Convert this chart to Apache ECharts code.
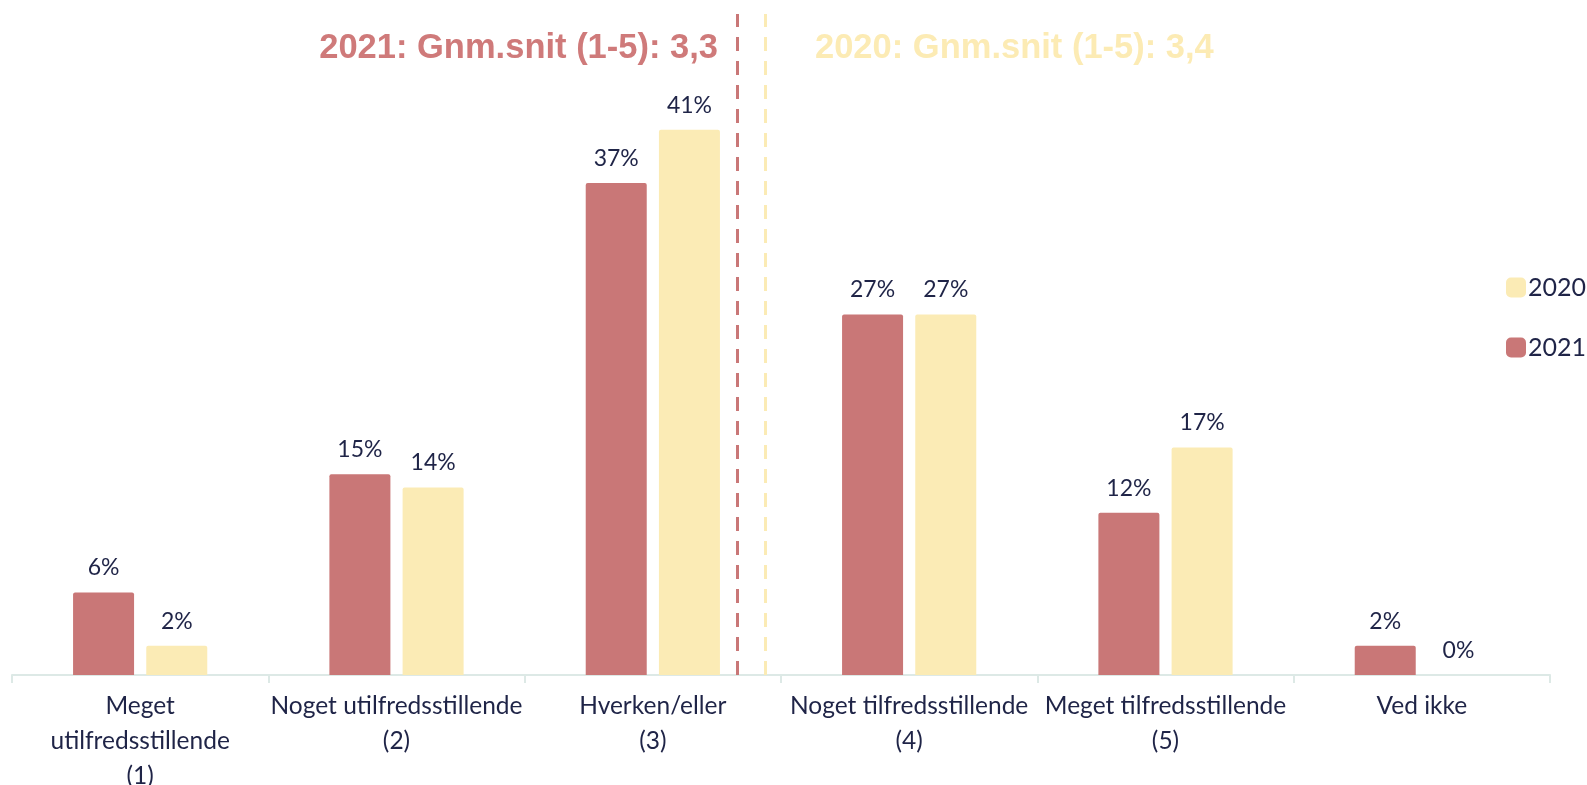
<!DOCTYPE html>
<html>
<head>
<meta charset="utf-8">
<script src="https://cdn.jsdelivr.net/npm/echarts@6/dist/echarts.min.js"></script>
<style>html,body{margin:0;padding:0;background:#fff}#c{width:1587px;height:785px}</style>
</head>
<body>
<div id="c"></div>
<script>
var categories = ["Meget\nutilfredsstillende\n(1)", "Noget utilfredsstillende\n(2)", "Hverken/eller\n(3)", "Noget tilfredsstillende\n(4)", "Meget tilfredsstillende\n(5)", "Ved ikke"];
var values2021 = [6.2, 15.1, 37.0, 27.1, 12.2, 2.2];
var values2020 = [2.2, 14.1, 41.0, 27.1, 17.1, 0];
var seriesNames = ["2021", "2020"];
var meanPositions = [3.33, 3.44];
var meanTitles = ["2021: Gnm.snit (1-5): 3,3", "2020: Gnm.snit (1-5): 3,4"];

var RED = '#C97777', YEL = '#FBEBB5', TXT = '#1F2447';
var chart = echarts.init(document.getElementById('c'), null, {renderer: 'canvas'});
var labelCfg = {
  show: true, position: 'top', distance: 13,
  fontFamily: 'Lato', fontSize: 23, color: TXT,
  formatter: function (p) { return Math.round(p.value) + '%'; }
};
chart.setOption({
  animation: false,
  grid: {left: 12, right: 37, top: 10, bottom: 110, containLabel: false, outerBoundsMode: 'none'},
  legend: {
    data: ['2020', '2021'], orient: 'vertical', left: 1501, top: 270,
    itemWidth: 20, itemHeight: 20, itemGap: 35,
    icon: 'roundRect',
    textStyle: {fontFamily: 'Lato', fontSize: 25, color: TXT, padding: [0, 0, 0, -3]}
  },
  xAxis: [{
    type: 'category', data: categories,
    axisLine: {lineStyle: {color: '#DDE9E6', width: 2}},
    axisTick: {show: true, length: 8, lineStyle: {color: '#DDE9E6', width: 2}},
    axisLabel: {fontFamily: 'Lato', fontSize: 24.5, color: TXT, lineHeight: 35, margin: 14, interval: 0}
  }, {
    type: 'value', min: 0.5, max: 6.5, show: false
  }],
  yAxis: {type: 'value', min: 0, max: 50, show: false, splitLine: {show: false}},
  series: [{
    name: seriesNames[0], type: 'bar', data: values2021, barWidth: '23.8%', barGap: '20%',
    itemStyle: {color: RED, borderRadius: [2, 2, 0, 0]}, label: labelCfg
  }, {
    name: seriesNames[1], type: 'bar', data: values2020, barWidth: '23.8%', barGap: '20%',
    itemStyle: {color: YEL, borderRadius: [2, 2, 0, 0]}, label: labelCfg
  }, {
    name: 'mean', type: 'line', xAxisIndex: 1, yAxisIndex: 0, data: [],
    markLine: {
      silent: true, symbol: 'none', label: {show: false},
      data: [
        [{coord: [meanPositions[0], 0], lineStyle: {color: RED, width: 3, type: [14, 10]}}, {coord: [meanPositions[0], 49.7]}],
        [{coord: [meanPositions[1], 0], lineStyle: {color: YEL, width: 3, type: [14, 10]}}, {coord: [meanPositions[1], 49.7]}]
      ]
    }
  }],
  graphic: [
    {type: 'text', x: 718, y: 48, style: {text: meanTitles[0], fill: '#CF7A7A', font: 'bold 34.5px "Liberation Sans", Arial', textAlign: 'right', textVerticalAlign: 'middle'}},
    {type: 'text', x: 815, y: 48, style: {text: meanTitles[1], fill: '#FCEBB4', font: 'bold 34.5px "Liberation Sans", Arial', textAlign: 'left', textVerticalAlign: 'middle'}}
  ]
});
</script>
</body>
</html>
